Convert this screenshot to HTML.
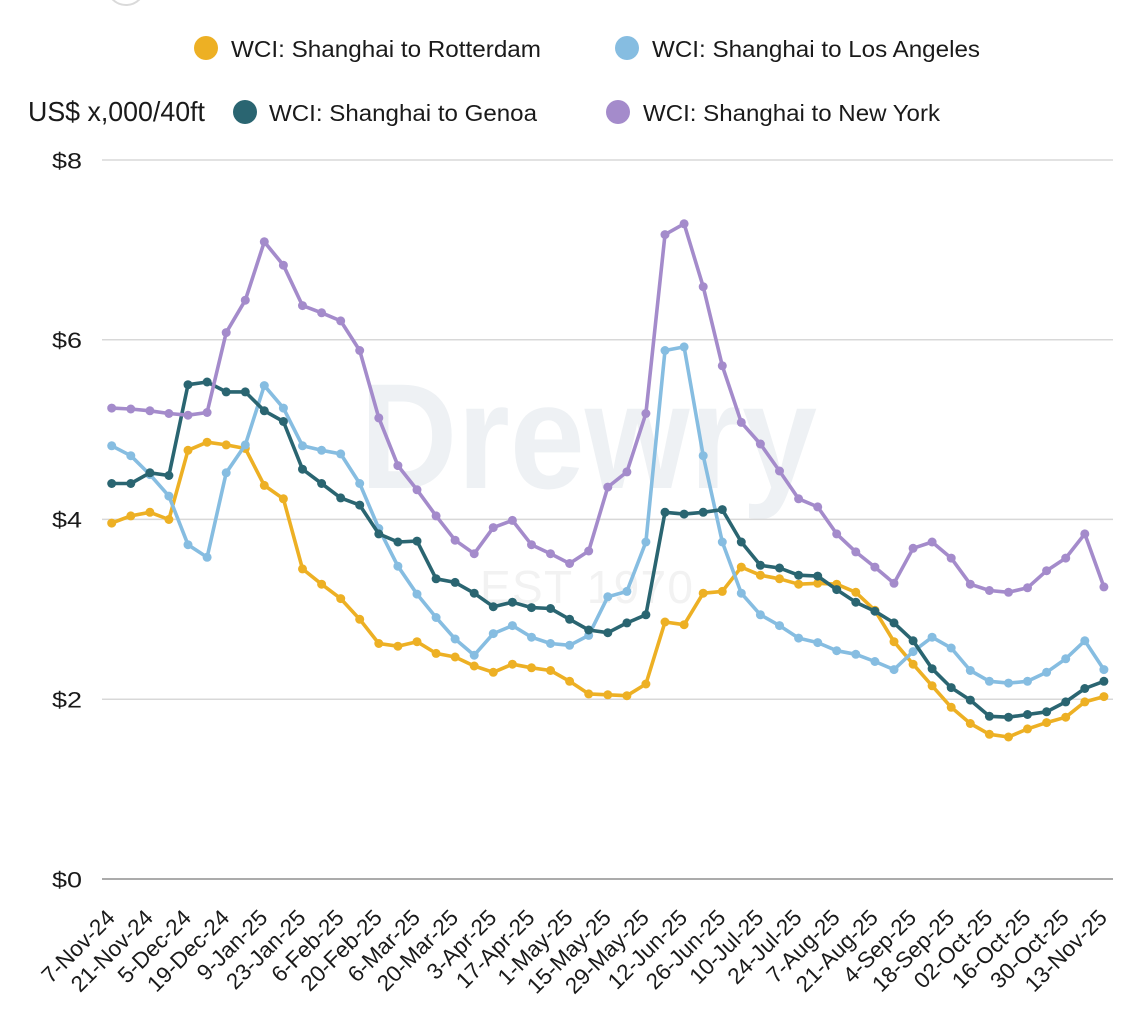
<!DOCTYPE html>
<html>
<head>
<meta charset="utf-8">
<style>
  html,body{margin:0;padding:0;background:#ffffff;}
  svg{display:block;}
  text{font-family:"Liberation Sans", Arial, sans-serif;}
</style>
</head>
<body>
<svg width="1123" height="1021" viewBox="0 0 1123 1021" xmlns="http://www.w3.org/2000/svg">
  <defs>
    <marker id="mY" markerUnits="userSpaceOnUse" markerWidth="10" markerHeight="10" refX="5" refY="5"><circle cx="5" cy="5" r="4.5" fill="#EDB024"/></marker>
    <marker id="mB" markerUnits="userSpaceOnUse" markerWidth="10" markerHeight="10" refX="5" refY="5"><circle cx="5" cy="5" r="4.5" fill="#86BDE1"/></marker>
    <marker id="mT" markerUnits="userSpaceOnUse" markerWidth="10" markerHeight="10" refX="5" refY="5"><circle cx="5" cy="5" r="4.5" fill="#2A6571"/></marker>
    <marker id="mP" markerUnits="userSpaceOnUse" markerWidth="10" markerHeight="10" refX="5" refY="5"><circle cx="5" cy="5" r="4.5" fill="#A48BCB"/></marker>
  </defs>
  <rect x="0" y="0" width="1123" height="1021" fill="#ffffff"/>

  <!-- top partial circle -->
  <circle cx="126" cy="-14" r="19" fill="none" stroke="#dadada" stroke-width="2"/>

  <!-- watermark -->
  <text x="360" y="488" font-size="150" font-weight="bold" fill="#eef1f4" textLength="457" lengthAdjust="spacingAndGlyphs">Drewry</text>
  <text x="480" y="603" font-size="46" fill="#f2f2f2" textLength="213" lengthAdjust="spacing">EST 1970</text>

  <!-- legend -->
  <circle cx="206" cy="48" r="12" fill="#EDB024"/>
  <text x="231" y="57" font-size="23" fill="#1a1a1a" textLength="310" lengthAdjust="spacingAndGlyphs">WCI: Shanghai to Rotterdam</text>
  <circle cx="627" cy="48" r="12" fill="#86BDE1"/>
  <text x="652" y="57" font-size="23" fill="#1a1a1a" textLength="328" lengthAdjust="spacingAndGlyphs">WCI: Shanghai to Los Angeles</text>

  <text x="28" y="121" font-size="28" fill="#1a1a1a" textLength="177" lengthAdjust="spacingAndGlyphs">US$ x,000/40ft</text>
  <circle cx="245" cy="112" r="12" fill="#2A6571"/>
  <text x="269" y="121" font-size="23" fill="#1a1a1a" textLength="268" lengthAdjust="spacingAndGlyphs">WCI: Shanghai to Genoa</text>
  <circle cx="618" cy="112" r="12" fill="#A48BCB"/>
  <text x="643" y="121" font-size="23" fill="#1a1a1a" textLength="297" lengthAdjust="spacingAndGlyphs">WCI: Shanghai to New York</text>

  <!-- gridlines -->
  <g stroke="#d8d8d8" stroke-width="1.5">
    <line x1="102" y1="160" x2="1113" y2="160"/>
    <line x1="102" y1="339.7" x2="1113" y2="339.7"/>
    <line x1="102" y1="519.4" x2="1113" y2="519.4"/>
    <line x1="102" y1="699.2" x2="1113" y2="699.2"/>
  </g>
  <line x1="102" y1="879" x2="1113" y2="879" stroke="#ababab" stroke-width="2"/>

  <!-- y labels -->
  <g font-size="22" fill="#1a1a1a" text-anchor="end">
    <text x="82" y="168.3" textLength="30" lengthAdjust="spacingAndGlyphs">$8</text>
    <text x="82" y="348" textLength="30" lengthAdjust="spacingAndGlyphs">$6</text>
    <text x="82" y="527.7" textLength="30" lengthAdjust="spacingAndGlyphs">$4</text>
    <text x="82" y="707.5" textLength="30" lengthAdjust="spacingAndGlyphs">$2</text>
    <text x="82" y="887.3" textLength="30" lengthAdjust="spacingAndGlyphs">$0</text>
  </g>

  <!-- x labels -->
  <g font-size="22.5" fill="#1a1a1a" text-anchor="end">
    <text transform="translate(116.2,919) rotate(-45)">7-Nov-24</text>
    <text transform="translate(154.4,919) rotate(-45)">21-Nov-24</text>
    <text transform="translate(192.5,919) rotate(-45)">5-Dec-24</text>
    <text transform="translate(230.7,919) rotate(-45)">19-Dec-24</text>
    <text transform="translate(268.8,919) rotate(-45)">9-Jan-25</text>
    <text transform="translate(307.0,919) rotate(-45)">23-Jan-25</text>
    <text transform="translate(345.2,919) rotate(-45)">6-Feb-25</text>
    <text transform="translate(383.3,919) rotate(-45)">20-Feb-25</text>
    <text transform="translate(421.5,919) rotate(-45)">6-Mar-25</text>
    <text transform="translate(459.6,919) rotate(-45)">20-Mar-25</text>
    <text transform="translate(497.8,919) rotate(-45)">3-Apr-25</text>
    <text transform="translate(536.0,919) rotate(-45)">17-Apr-25</text>
    <text transform="translate(574.1,919) rotate(-45)">1-May-25</text>
    <text transform="translate(612.3,919) rotate(-45)">15-May-25</text>
    <text transform="translate(650.4,919) rotate(-45)">29-May-25</text>
    <text transform="translate(688.6,919) rotate(-45)">12-Jun-25</text>
    <text transform="translate(726.8,919) rotate(-45)">26-Jun-25</text>
    <text transform="translate(764.9,919) rotate(-45)">10-Jul-25</text>
    <text transform="translate(803.1,919) rotate(-45)">24-Jul-25</text>
    <text transform="translate(841.2,919) rotate(-45)">7-Aug-25</text>
    <text transform="translate(879.4,919) rotate(-45)">21-Aug-25</text>
    <text transform="translate(917.6,919) rotate(-45)">4-Sep-25</text>
    <text transform="translate(955.7,919) rotate(-45)">18-Sep-25</text>
    <text transform="translate(993.9,919) rotate(-45)">02-Oct-25</text>
    <text transform="translate(1032.0,919) rotate(-45)">16-Oct-25</text>
    <text transform="translate(1070.2,919) rotate(-45)">30-Oct-25</text>
    <text transform="translate(1108.4,919) rotate(-45)">13-Nov-25</text>
  </g>

  <!-- series -->
  <g fill="none" stroke-width="3.6" stroke-linejoin="round" stroke-linecap="round">
    <polyline stroke="#EDB024" marker-start="url(#mY)" marker-mid="url(#mY)" marker-end="url(#mY)" points="111.7,523.1 130.8,515.9 149.9,512.3 168.9,519.5 188,450.3 207.1,442.2 226.2,444.9 245.3,448.5 264.3,485.4 283.4,498.8 302.5,568.9 321.6,584.2 340.7,598.6 359.7,619.3 378.8,643.5 397.9,646.2 417,641.7 436.1,653.4 455.1,657 474.2,666 493.3,672.3 512.4,664.2 531.5,667.8 550.5,670.5 569.6,681.3 588.7,693.9 607.8,694.8 626.9,695.7 645.9,684 665,622 684.1,624.7 703.2,593.2 722.3,591.4 741.3,567.1 760.4,575.2 779.5,578.8 798.6,584.2 817.7,583.3 836.7,584.2 855.8,592.3 874.9,610.3 894,641.7 913.1,664.2 932.1,685.8 951.2,707.3 970.3,723.5 989.4,734.3 1008.5,737 1027.5,728.9 1046.6,722.6 1065.7,717.2 1084.8,701.9 1103.9,696.6"/>
    <polyline stroke="#86BDE1" marker-start="url(#mB)" marker-mid="url(#mB)" marker-end="url(#mB)" points="111.7,445.8 130.8,455.7 149.9,474.6 168.9,496.1 188,544.7 207.1,557.3 226.2,472.8 245.3,444.9 264.3,385.6 283.4,408.1 302.5,445.8 321.6,450.3 340.7,453.9 359.7,483.5 378.8,528.5 397.9,566.2 417,594.1 436.1,617.5 455.1,639 474.2,655.2 493.3,633.6 512.4,625.6 531.5,637.2 550.5,643.5 569.6,645.3 588.7,635.4 607.8,596.8 626.9,591.4 645.9,542 665,350.5 684.1,346.9 703.2,455.7 722.3,542 741.3,593.2 760.4,614.8 779.5,625.6 798.6,638.1 817.7,642.6 836.7,650.7 855.8,654.3 874.9,661.5 894,669.6 913.1,651.6 932.1,637.2 951.2,648 970.3,670.5 989.4,681.3 1008.5,683.1 1027.5,681.3 1046.6,672.3 1065.7,658.8 1084.8,640.8 1103.9,669.6"/>
    <polyline stroke="#2A6571" marker-start="url(#mT)" marker-mid="url(#mT)" marker-end="url(#mT)" points="111.7,483.5 130.8,483.5 149.9,472.8 168.9,475.5 188,384.7 207.1,382 226.2,391.9 245.3,391.9 264.3,410.8 283.4,421.5 302.5,469.2 321.6,483.5 340.7,497.9 359.7,505.1 378.8,533.9 397.9,542 417,541.1 436.1,578.8 455.1,582.4 474.2,593.2 493.3,606.7 512.4,602.2 531.5,607.6 550.5,608.5 569.6,619.3 588.7,630 607.8,632.7 626.9,622.9 645.9,614.8 665,512.3 684.1,514.1 703.2,512.3 722.3,509.6 741.3,542 760.4,565.3 779.5,568 798.6,575.2 817.7,576.1 836.7,589.6 855.8,602.2 874.9,611.2 894,622.9 913.1,640.8 932.1,668.7 951.2,687.6 970.3,700.1 989.4,716.3 1008.5,717.2 1027.5,714.5 1046.6,711.8 1065.7,701.9 1084.8,688.5 1103.9,681.3"/>
    <polyline stroke="#A48BCB" marker-start="url(#mP)" marker-mid="url(#mP)" marker-end="url(#mP)" points="111.7,408.1 130.8,409 149.9,410.8 168.9,413.5 188,415.2 207.1,412.5 226.2,332.6 245.3,300.2 264.3,241.8 283.4,265.2 302.5,305.6 321.6,312.8 340.7,320.9 359.7,350.5 378.8,417.9 397.9,465.6 417,489.8 436.1,515.9 455.1,540.2 474.2,553.7 493.3,527.6 512.4,520.4 531.5,544.7 550.5,553.7 569.6,563.5 588.7,551 607.8,487.1 626.9,471.9 645.9,413.5 665,234.6 684.1,223.8 703.2,286.7 722.3,365.8 741.3,422.4 760.4,444 779.5,471 798.6,498.8 817.7,506.9 836.7,533.9 855.8,551.9 874.9,567.1 894,583.3 913.1,548.3 932.1,542 951.2,558.1 970.3,584.2 989.4,590.5 1008.5,592.3 1027.5,587.8 1046.6,570.7 1065.7,558.1 1084.8,533.9 1103.9,586.9"/>
  </g>
</svg>
</body>
</html>
